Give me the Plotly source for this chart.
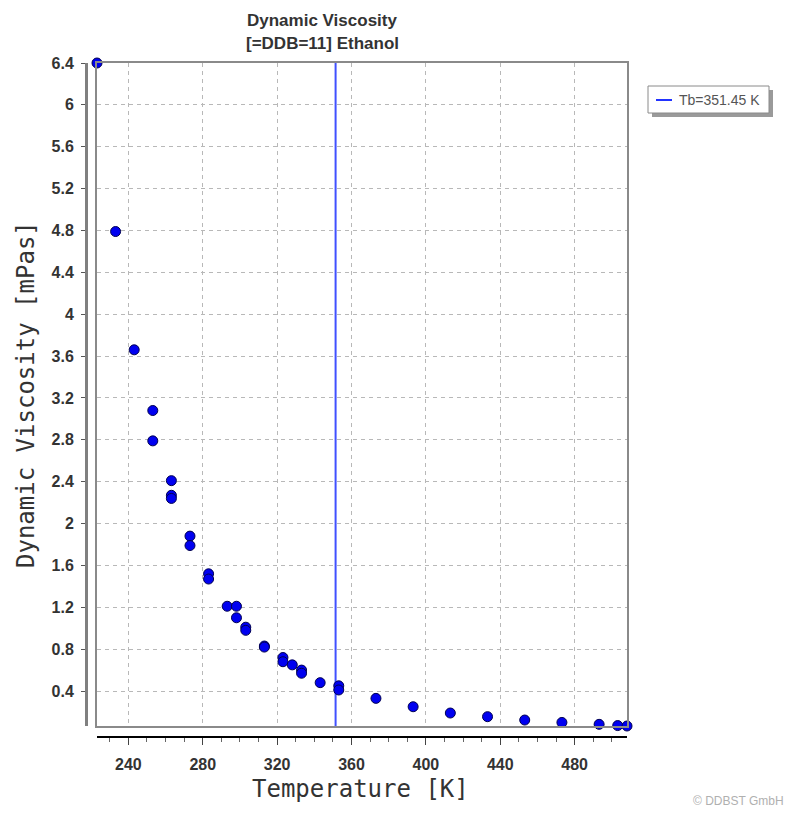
import plotly.graph_objects as go

# ---- data ----
temperature_K = [223.15, 233.15, 243.15, 253.15, 253.15, 263.15, 263.15, 263.15,
                 273.15, 273.15, 283.15, 283.15, 293.15, 298.15, 298.15, 303.15,
                 303.15, 313.15, 313.15, 323.15, 323.15, 328.15, 333.15, 333.15,
                 343.15, 353.15, 353.15, 373.15, 393.15, 413.15, 433.15, 453.15,
                 473.15, 493.15, 503.15, 508.15]
viscosity_mPas = [6.40, 4.79, 3.66, 3.08, 2.79, 2.41, 2.27, 2.24,
                  1.88, 1.79, 1.52, 1.47, 1.21, 1.21, 1.10, 1.01,
                  0.98, 0.83, 0.82, 0.72, 0.68, 0.65, 0.60, 0.57,
                  0.48, 0.45, 0.41, 0.33, 0.25, 0.19, 0.155, 0.123,
                  0.10, 0.082, 0.070, 0.066]
tb_K = 351.45
tb_label = "Tb=351.45 K"
x_tick_vals = [240, 280, 320, 360, 400, 440, 480]
y_tick_vals = [0.4, 0.8, 1.2, 1.6, 2.0, 2.4, 2.8, 3.2, 3.6, 4.0, 4.4, 4.8, 5.2, 5.6, 6.0, 6.4]
y_tick_text = ["0.4", "0.8", "1.2", "1.6", "2", "2.4", "2.8", "3.2", "3.6", "4", "4.4",
               "4.8", "5.2", "5.6", "6", "6.4"]

xr = [min(temperature_K), max(temperature_K)]
yr = [min(viscosity_mPas), max(viscosity_mPas)]

W, H = 789, 814
L, R, T, B = 86, 162, 63, 77
PW = W - L - R
PH = H - T - B
GAP = 11
xdom0 = GAP / PW
ydom0 = GAP / PH


def px(xp):
    return (xp - L) / PW


def py(yp):
    return (H - B - yp) / PH


TICKFONT = dict(family="Liberation Sans, Arial, sans-serif", size=16, color="#333333", weight="bold")
GRID = "#b8b8b8"

fig = go.Figure()

# boiling temperature line
fig.add_trace(go.Scatter(
    x=[tb_K, tb_K], y=yr, mode="lines",
    line=dict(color="#4050ff", width=2), showlegend=False, hoverinfo="skip",
    xaxis="x", yaxis="y", cliponaxis=False))

# data points
fig.add_trace(go.Scatter(
    x=temperature_K, y=viscosity_mPas, mode="markers",
    marker=dict(size=10, color="#0000f0", line=dict(color="#000050", width=1)),
    showlegend=False, cliponaxis=False, xaxis="x", yaxis="y"))

# invisible trace on the offset axes so they render
fig.add_trace(go.Scatter(
    x=temperature_K, y=viscosity_mPas, mode="markers",
    marker=dict(size=1, opacity=0), showlegend=False, hoverinfo="skip",
    xaxis="x2", yaxis="y2"))

fig.update_layout(
    width=W, height=H,
    margin=dict(l=L, r=R, t=T, b=B, pad=0),
    paper_bgcolor="white", plot_bgcolor="white",
    showlegend=False,
    xaxis=dict(domain=[xdom0, 1], range=xr, anchor="y",
               showgrid=True, gridcolor=GRID, griddash="4px,4px", gridwidth=1,
               tickvals=x_tick_vals, showticklabels=False, ticks="",
               zeroline=False, showline=True, linecolor="#8a8a8a", linewidth=2, mirror=True),
    yaxis=dict(domain=[ydom0, 1], range=yr, anchor="x",
               showgrid=True, gridcolor=GRID, griddash="4px,4px", gridwidth=1,
               tickvals=y_tick_vals, showticklabels=False, ticks="",
               zeroline=False, showline=True, linecolor="#8a8a8a", linewidth=2, mirror=True),
    xaxis2=dict(overlaying="x", anchor="free", position=0, range=xr,
                tickvals=x_tick_vals, ticks="outside", ticklen=7, tickwidth=1, tickcolor="#444",
                minor=dict(dtick=10, tick0=240, ticks="outside", ticklen=4, tickcolor="#666"),
                tickfont=TICKFONT, ticklabelstandoff=6,
                showgrid=False, zeroline=False, showline=True, linecolor="#000000", linewidth=2),
    yaxis2=dict(overlaying="y", anchor="free", position=0, range=yr,
                tickvals=y_tick_vals, ticktext=y_tick_text, ticks="outside", ticklen=4,
                tickwidth=1, tickcolor="#555", tickfont=TICKFONT, ticklabelstandoff=4,
                showgrid=False, zeroline=False, showline=True, linecolor="#808080", linewidth=3),
)

shapes = [
    # legend shadow and box
    dict(type="rect", xref="paper", yref="paper", x0=px(652), x1=px(773), y0=py(90), y1=py(117),
         fillcolor="#9a9a9a", line=dict(width=0), layer="above"),
    dict(type="rect", xref="paper", yref="paper", x0=px(648), x1=px(769), y0=py(86), y1=py(113),
         fillcolor="white", line=dict(color="#8a8a8a", width=1), layer="above"),
    dict(type="line", xref="paper", yref="paper", x0=px(656), x1=px(672), y0=py(100), y1=py(100),
         line=dict(color="#2233ff", width=2), layer="above"),
]
fig.update_layout(shapes=shapes)

annotations = [
    dict(text="<b>Dynamic Viscosity</b>", x=px(322), y=py(20), xref="paper", yref="paper",
         showarrow=False, xanchor="center", yanchor="middle",
         font=dict(family="Liberation Sans, Arial, sans-serif", size=17, color="#333333")),
    dict(text="<b>[=DDB=11] Ethanol</b>", x=px(322), y=py(44), xref="paper", yref="paper",
         showarrow=False, xanchor="center", yanchor="middle",
         font=dict(family="Liberation Sans, Arial, sans-serif", size=17, color="#333333")),
    dict(text="Temperature [K]", x=px(360), y=py(789), xref="paper", yref="paper",
         showarrow=False, xanchor="center", yanchor="middle",
         font=dict(family="DejaVu Sans Mono, monospace", size=24, color="#333333")),
    dict(text="Dynamic Viscosity [mPas]", x=px(26), y=py(395), xref="paper", yref="paper",
         showarrow=False, xanchor="center", yanchor="middle", textangle=-90,
         font=dict(family="DejaVu Sans Mono, monospace", size=24, color="#333333")),
    dict(text=tb_label, x=px(677), y=py(100), xref="paper", yref="paper",
         showarrow=False, xanchor="left", yanchor="middle",
         font=dict(family="Liberation Sans, Arial, sans-serif", size=14, color="#555555")),
    dict(text="© DDBST GmbH", x=px(786), y=py(801), xref="paper", yref="paper",
         showarrow=False, xanchor="right", yanchor="middle",
         font=dict(family="Liberation Sans, Arial, sans-serif", size=12, color="#b0b0b0")),
]
fig.update_layout(annotations=annotations)

fig.write_html("out.html",
               config={"displayModeBar": False},
               post_script="document.body.style.margin='0';document.body.style.overflow='hidden';")
